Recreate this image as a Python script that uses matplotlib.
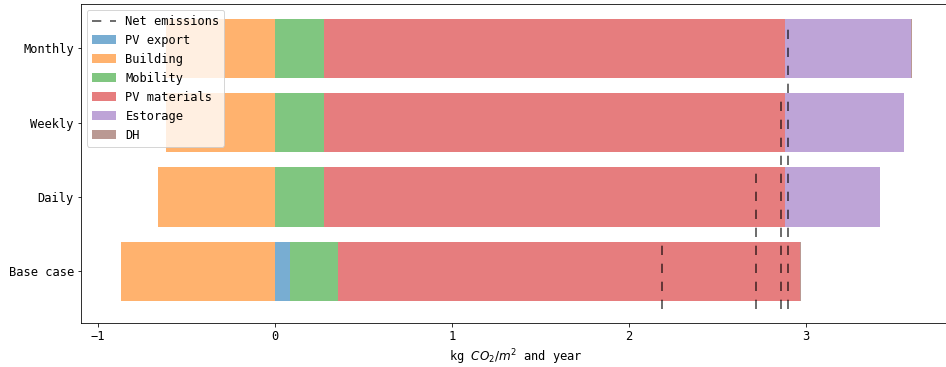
import numpy as np
import matplotlib
matplotlib.use("Agg")
import matplotlib.pyplot as plt

plt.rcParams['font.family'] = ['DejaVu Sans Mono']
plt.rcParams['font.size'] = 12

# scenarios and emission contributions (kg CO2/m2 and year)
scenarios = ['Base case', 'Daily', 'Weekly', 'Monthly']
pv_export = [0.082, 0.0, 0.0, 0.0]
building = [-0.874, -0.665, -0.618, -0.618]
mobility = [0.273, 0.274, 0.274, 0.274]
pv_materials = [2.613, 2.609, 2.609, 2.609]
estorage = [0.0, 0.533, 0.668, 0.710]
dh = [0.004, 0.004, 0.004, 0.004]
net_emissions = [2.188, 2.715, 2.859, 2.900]

fig = plt.figure(figsize=(946 / 72, 367 / 72), dpi=72)
ax = fig.add_axes([0.0856, 0.1199, 0.920, 0.869])

y = np.arange(len(scenarios))

# net emission markers, one per scenario, reaching up to its bar
ax.vlines(net_emissions, -0.5, y + 0.36, colors='k', alpha=0.75,
          linestyles=(0, (6.2, 5.8)), linewidth=1.5, label='Net emissions')

# positive contributions stacked from zero, building credit to the left
left = np.zeros(len(scenarios))
ax.barh(y, pv_export, left=left, color='tab:blue', alpha=0.6, label='PV export')
left += pv_export
ax.barh(y, building, color='tab:orange', alpha=0.6, label='Building')
for vals, col, name in [(mobility, 'tab:green', 'Mobility'),
                        (pv_materials, 'tab:red', 'PV materials'),
                        (estorage, 'tab:purple', 'Estorage'),
                        (dh, 'tab:brown', 'DH')]:
    ax.barh(y, vals, left=left, color=col, alpha=0.6, label=name)
    left += vals

ax.set_yticks(y)
ax.set_yticklabels(scenarios)
ax.set_xticks([-1, 0, 1, 2, 3])
ax.set_xlabel('kg $CO_2/m^2$ and year')
ax.legend(loc='upper left')

fig.savefig('out.png', dpi=72)
